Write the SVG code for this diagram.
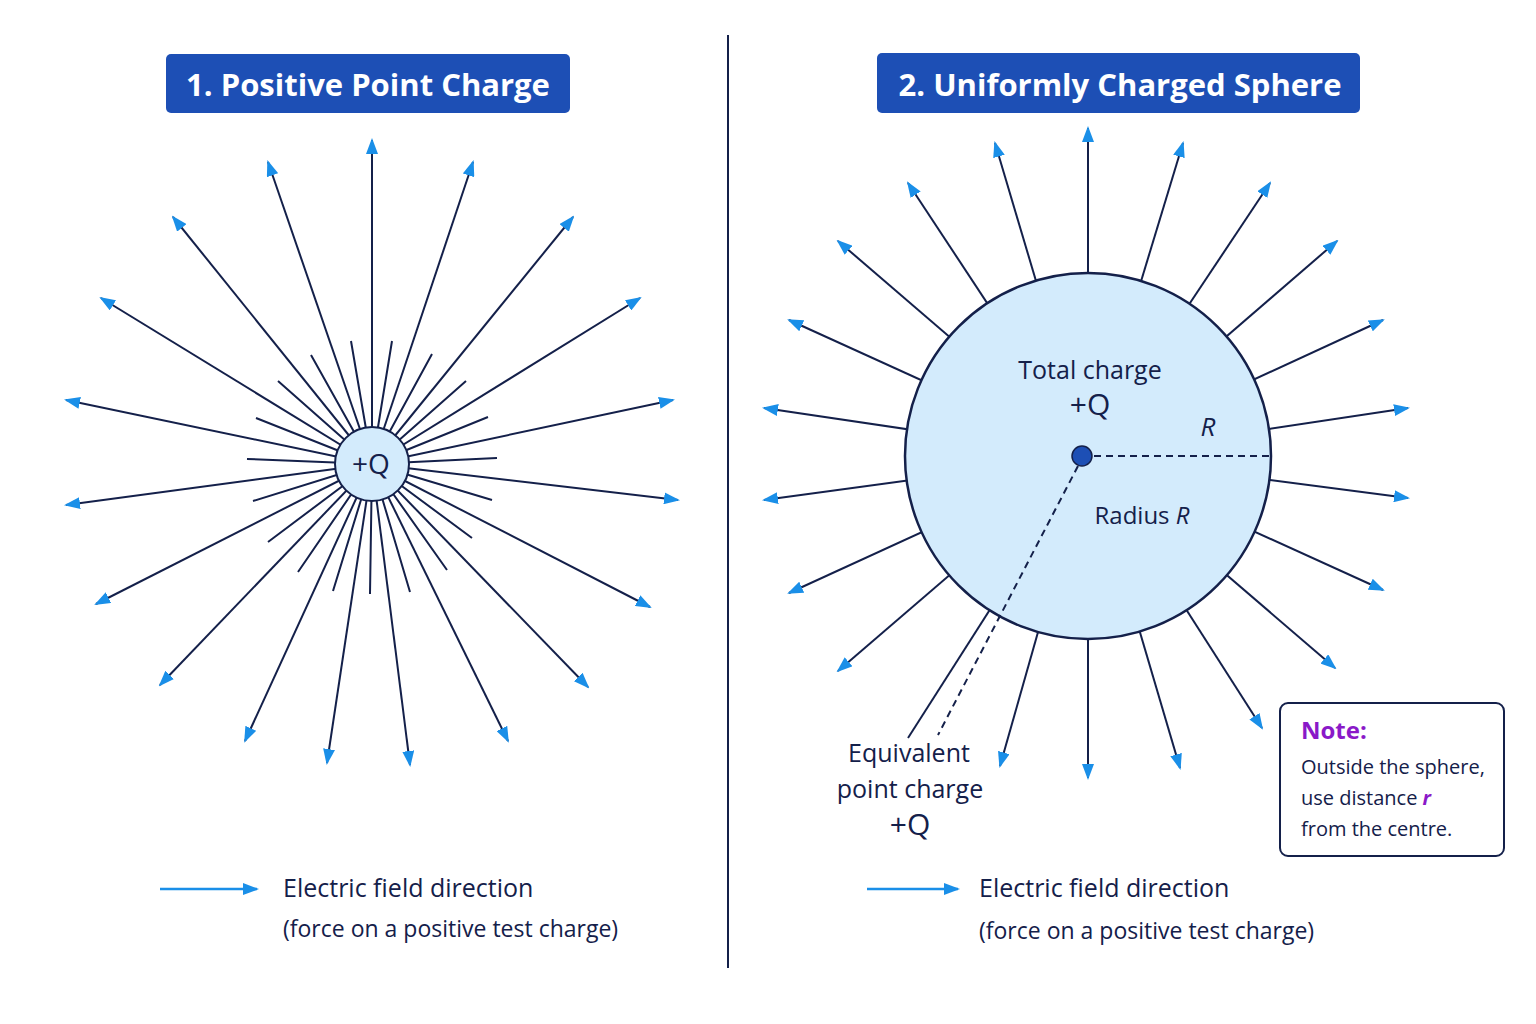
<svg xmlns="http://www.w3.org/2000/svg" width="1536" height="1024" viewBox="0 0 1536 1024">
<style>
.t{font-family:"Open Sans","Liberation Sans",sans-serif;fill:#14204a;font-weight:500}
.ttl{font-family:"Open Sans","Liberation Sans",sans-serif;fill:#fff;font-weight:bold;font-size:31px}
.ln{stroke:#14204a;stroke-width:2;fill:none}
.ar{stroke:#14204a;stroke-width:2;fill:none;marker-end:url(#ah)}
.la{stroke:#1a8fe8;stroke-width:2.5;marker-end:url(#ah)}
</style>
<defs>
<marker id="ah" markerUnits="userSpaceOnUse" markerWidth="16" markerHeight="12" refX="14" refY="6" orient="auto"><path d="M0,0 L16,6 L0,12 Z" fill="#1a8fe8"/></marker>
</defs>
<rect width="1536" height="1024" fill="#fff"/>
<line x1="728" y1="35" x2="728" y2="968" stroke="#14204a" stroke-width="2"/>
<g id="title1"><rect x="166" y="54" width="404" height="59" rx="5" fill="#1d4fb5"/><text class="ttl" x="368" y="96" text-anchor="middle">1.  Positive Point Charge</text></g>
<g id="title2"><rect x="877" y="53" width="483" height="60" rx="5" fill="#1d4fb5"/><text class="ttl" x="1120" y="96" text-anchor="middle">2. Uniformly Charged Sphere</text></g>
<g id="connectors">
<g id="left-field">
<path class="ar" d="M372,464L372,140"/><path class="ar" d="M372,464L473,162"/><path class="ar" d="M372,464L573,217"/><path class="ar" d="M372,464L640,298"/><path class="ar" d="M372,464L673,400"/><path class="ar" d="M372,464L678,500"/><path class="ar" d="M372,464L650,607"/><path class="ar" d="M372,464L588,687"/><path class="ar" d="M372,464L508,741"/><path class="ar" d="M372,464L410,765"/><path class="ar" d="M372,464L327,763"/><path class="ar" d="M372,464L245,741"/><path class="ar" d="M372,464L160,685"/><path class="ar" d="M372,464L96,604"/><path class="ar" d="M372,464L66,505"/><path class="ar" d="M372,464L66,400"/><path class="ar" d="M372,464L101,298"/><path class="ar" d="M372,464L173,217"/><path class="ar" d="M372,464L268,162"/>
<path class="ln" d="M372,464L392,341M372,464L432,354M372,464L466,381M372,464L488,417M372,464L497,458M372,464L492,500M372,464L472,538M372,464L447,570M372,464L410,592M372,464L370,594M372,464L333,591M372,464L298,572M372,464L268,542M372,464L253,501M372,464L247,459M372,464L256,418M372,464L278,381M372,464L311,355M372,464L351,341"/>
</g>
<g id="right-field">
<path class="ar" d="M1088,456L1088,128"/><path class="ar" d="M1088,456L1183,143"/><path class="ar" d="M1088,456L1270,183"/><path class="ar" d="M1088,456L1337,241"/><path class="ar" d="M1088,456L1383,320"/><path class="ar" d="M1088,456L1408,408"/><path class="ar" d="M1088,456L1408,498"/><path class="ar" d="M1088,456L1383,590"/><path class="ar" d="M1088,456L1335,668"/><path class="ar" d="M1088,456L1262,728"/><path class="ar" d="M1088,456L1180,768"/><path class="ar" d="M1088,456L1088,778"/><path class="ar" d="M1088,456L1000,766"/><path class="ln" d="M1088,456L908,738"/><path class="ar" d="M1088,456L838,671"/><path class="ar" d="M1088,456L789,593"/><path class="ar" d="M1088,456L764,500"/><path class="ar" d="M1088,456L764,408"/><path class="ar" d="M1088,456L789,320"/><path class="ar" d="M1088,456L838,241"/><path class="ar" d="M1088,456L908,183"/><path class="ar" d="M1088,456L995,143"/>
</g>
</g>
<g id="charge"><circle cx="372" cy="464" r="37" fill="#d3ebfc" stroke="#14204a" stroke-width="2"/><text class="t" x="371" y="474" text-anchor="middle" font-size="28">+Q</text></g>
<g id="sphere">
<circle cx="1088" cy="456" r="183" fill="#d3ebfc" stroke="#14204a" stroke-width="2.5"/>
<line x1="1082" y1="456" x2="1270" y2="456" stroke="#14204a" stroke-width="2" stroke-dasharray="7,5"/>
<line x1="1078" y1="466" x2="938" y2="735" stroke="#14204a" stroke-width="2" stroke-dasharray="7,5"/>
<circle cx="1082" cy="456" r="10" fill="#1d4fb5" stroke="#14204a" stroke-width="1.5"/>
<text class="t" x="1090" y="379" text-anchor="middle" font-size="25">Total charge</text>
<text class="t" x="1090" y="415" text-anchor="middle" font-size="30">+Q</text>
<text class="t" x="1208" y="436" text-anchor="middle" font-size="26" font-style="italic">R</text>
<text class="t" x="1142" y="524" text-anchor="middle" font-size="24">Radius <tspan font-style="italic">R</tspan></text>
</g>
<g id="equiv"><text class="t" x="909" y="762" text-anchor="middle" font-size="25">Equivalent</text><text class="t" x="910" y="798" text-anchor="middle" font-size="25">point charge</text><text class="t" x="910" y="835" text-anchor="middle" font-size="30">+Q</text></g>
<g id="legend1"><line class="la" x1="160" y1="889" x2="257" y2="889"/><text class="t" x="283" y="897" font-size="25">Electric field direction</text><text class="t" x="283" y="937" font-size="23">(force on a positive test charge)</text></g>
<g id="legend2"><line class="la" x1="867" y1="889" x2="958" y2="889"/><text class="t" x="979" y="897" font-size="25">Electric field direction</text><text class="t" x="979" y="939" font-size="23">(force on a positive test charge)</text></g>
<g id="note"><rect x="1280" y="703" width="224" height="153" rx="8" fill="#fff" stroke="#14204a" stroke-width="2"/>
<text x="1301" y="739" font-family="Open Sans,Liberation Sans,sans-serif" font-size="24" font-weight="bold" fill="#8a19c8">Note:</text>
<text class="t" x="1301" y="774" font-size="20">Outside the sphere,</text>
<text class="t" x="1301" y="805" font-size="20">use distance <tspan fill="#8a19c8" font-weight="bold" font-style="italic">r</tspan></text>
<text class="t" x="1301" y="836" font-size="20">from the centre.</text></g>
</svg>
